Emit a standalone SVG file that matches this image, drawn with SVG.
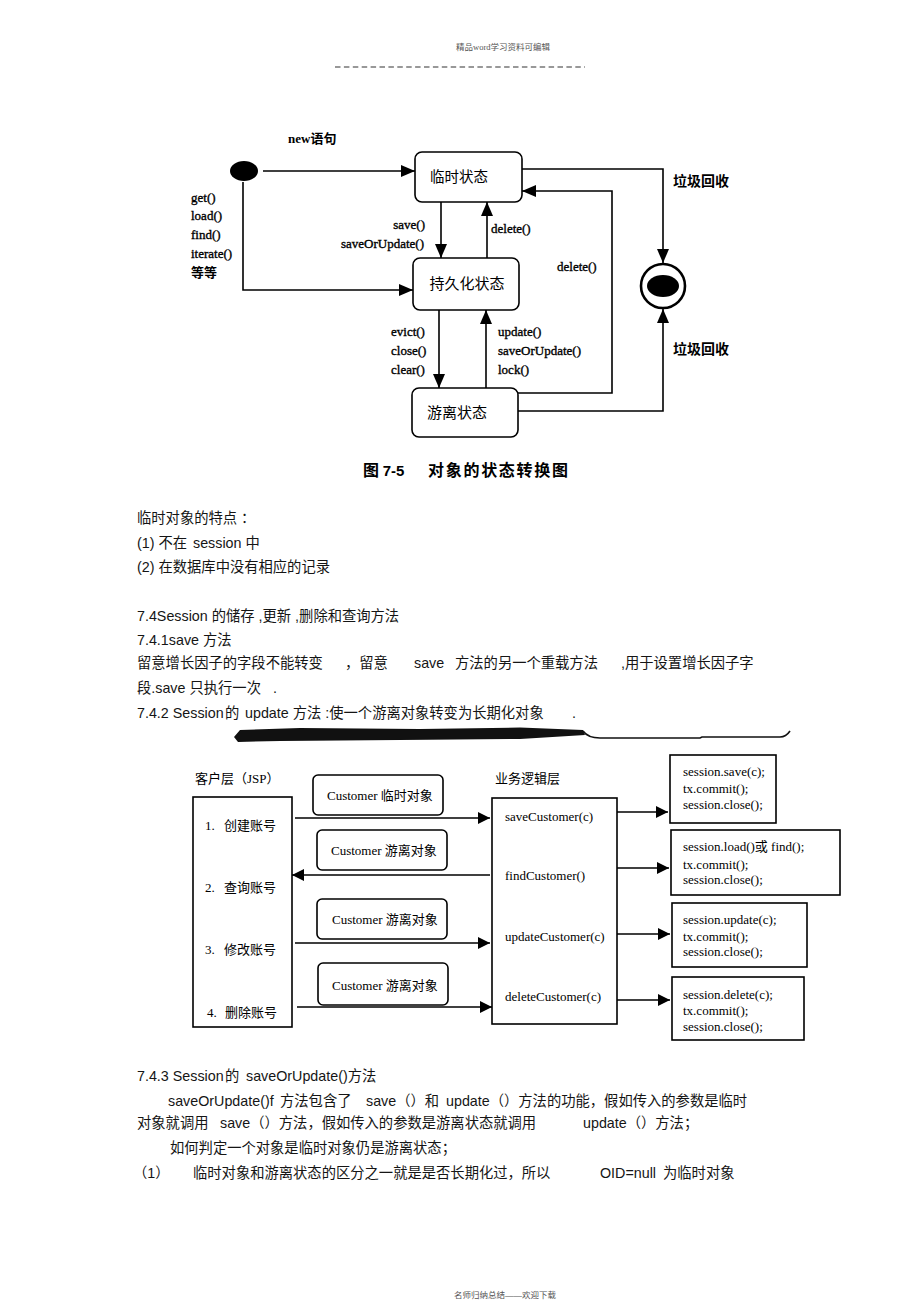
<svg xmlns="http://www.w3.org/2000/svg" width="920" height="1303" viewBox="0 0 920 1303">
<style>
.hdr{font-family:"Liberation Serif","Noto Sans CJK SC",serif;font-size:8.5px;fill:#555}
.body{font-family:"Liberation Sans","Noto Sans CJK SC",sans-serif;font-size:14.3px;fill:#151515}
.lbl{font-family:"Liberation Serif","Noto Sans CJK SC",serif;font-size:13px;fill:#000}
.sl{stroke:#000;stroke-width:0.35}
.cjk{font-family:"Noto Sans CJK SC",sans-serif;fill:#000}
.node{fill:#fff;stroke:#000;stroke-width:1.6}
.edge{fill:none;stroke:#000;stroke-width:1.6}
</style>
<defs>
<marker id="ah" viewBox="0 0 14 12" refX="14" refY="6" markerWidth="14" markerHeight="12" markerUnits="userSpaceOnUse" orient="auto"><path d="M0,0 L14,6 L0,12 z" fill="#000"/></marker>
<marker id="ah2" viewBox="0 0 12 12" refX="12" refY="6" markerWidth="12" markerHeight="12" markerUnits="userSpaceOnUse" orient="auto"><path d="M0,0 L12,6 L0,12 z" fill="#000"/></marker>
</defs>
<rect width="920" height="1303" fill="#fff"/>

<!-- header / footer -->
<text class="hdr" x="503" y="50" text-anchor="middle">精品word学习资料可编辑</text>
<path d="M335,67 H585" stroke="#333" stroke-width="1.2" stroke-dasharray="5.5 3.4" fill="none"/>
<text class="hdr" x="505" y="1298" text-anchor="middle">名师归纳总结——欢迎下载</text>

<!-- ===== State diagram ===== -->
<g id="edges-state">
<path class="edge" d="M263,171 H415" marker-end="url(#ah)"/>
<path class="edge" d="M243,182 V290 H413" marker-end="url(#ah)"/>
<path class="edge" d="M441,202 V258" marker-end="url(#ah)"/>
<path class="edge" d="M487,258 V202" marker-end="url(#ah)"/>
<path class="edge" d="M439,310 V388" marker-end="url(#ah)"/>
<path class="edge" d="M486,388 V310" marker-end="url(#ah)"/>
<path class="edge" d="M518,393 H612 V191 H522" marker-end="url(#ah)"/>
<path class="edge" d="M522,169 H663 V263" marker-end="url(#ah)"/>
<path class="edge" d="M518,411 H663 V309" marker-end="url(#ah)"/>
<text class="lbl" x="288" y="143" font-weight="bold">new语句</text>
<text class="lbl sl" x="191" y="201.5">get()</text>
<text class="lbl sl" x="191" y="219.5">load()</text>
<text class="lbl sl" x="191" y="238.5">find()</text>
<text class="lbl sl" x="191" y="257.5">iterate()</text>
<text class="cjk" x="191" y="277" font-size="13" font-weight="bold">等等</text>
<text class="lbl sl" x="425" y="229" text-anchor="end">save()</text>
<text class="lbl sl" x="424" y="248" text-anchor="end">saveOrUpdate()</text>
<text class="lbl sl" x="491" y="233">delete()</text>
<text class="lbl sl" x="557" y="271">delete()</text>
<text class="lbl sl" x="391" y="336">evict()</text>
<text class="lbl sl" x="391" y="355">close()</text>
<text class="lbl sl" x="391" y="374">clear()</text>
<text class="lbl sl" x="498" y="336">update()</text>
<text class="lbl sl" x="498" y="355">saveOrUpdate()</text>
<text class="lbl sl" x="498" y="374">lock()</text>
<text class="cjk" x="673" y="186" font-size="14" font-weight="bold">垃圾回收</text>
<text class="cjk" x="673" y="354" font-size="14" font-weight="bold">垃圾回收</text>
</g>
<g id="start">
<ellipse cx="244" cy="171" rx="14" ry="10" fill="#000"/>
</g>
<g id="transient">
<rect class="node" x="415" y="152" width="107" height="50" rx="7"/>
<text class="cjk" x="459" y="182" font-size="14.5" text-anchor="middle">临时状态</text>
</g>
<g id="persistent">
<rect class="node" x="413" y="258" width="106" height="52" rx="7"/>
<text class="cjk" x="467" y="288.5" font-size="15" text-anchor="middle">持久化状态</text>
</g>
<g id="detached">
<rect class="node" x="412" y="388" width="106" height="49" rx="7"/>
<text class="cjk" x="457" y="418" font-size="15" text-anchor="middle">游离状态</text>
</g>
<g id="final">
<circle cx="663" cy="286" r="22" fill="#fff" stroke="#000" stroke-width="2.6"/>
<ellipse cx="663" cy="286" rx="16" ry="11" fill="#000"/>
</g>
<g id="caption">
<text class="cjk" x="363" y="476" font-size="16" font-weight="bold">图 <tspan font-family="Liberation Sans" font-size="15">7-5</tspan></text>
<text class="cjk" x="428" y="476" font-size="16" font-weight="bold" textLength="140">对象的状态转换图</text>
</g>

<!-- ===== Body text 1 ===== -->
<g id="text1" class="body">
<text x="137" y="523">临时对象的特点 ：</text>
<text x="137" y="548">(1) 不在<tspan x="193">session 中</tspan></text>
<text x="137" y="572">(2) 在数据库中没有相应的记录</text>
<text x="137" y="621">7.4Session 的储存 ,更新 ,删除和查询方法</text>
<text x="137" y="645">7.4.1save 方法</text>
<text x="137" y="668">留意增长因子的字段不能转变<tspan x="345">，留意</tspan><tspan x="414">save</tspan><tspan x="455">方法的另一个重载方法</tspan><tspan x="621">,用于设置增长因子字</tspan></text>
<text x="137" y="693">段.save 只执行一次<tspan x="273">.</tspan></text>
<text x="137" y="718">7.4.2 Session<tspan x="225">的</tspan><tspan x="245">update 方法 :使一个游离对象转变为长期化对象</tspan><tspan x="572">.</tspan></text>
</g>
<g id="scribble">
<path d="M234,737 L240,730 L300,728 L420,729 L520,727.5 L583,730 L585,735 L520,739 L400,740 L280,741 L238,742 z" fill="#111"/>
<path d="M583,731 Q588,738 600,738 H700 L702,737 H780 Q786,737 790,731" fill="none" stroke="#111" stroke-width="1.6"/>
</g>

<!-- ===== Second diagram ===== -->
<g id="edges-flow">
<path class="edge" d="M295,818 H490" marker-end="url(#ah2)"/>
<path class="edge" d="M490,875 H292" marker-end="url(#ah2)"/>
<path class="edge" d="M295,943 H490" marker-end="url(#ah2)"/>
<path class="edge" d="M297,1007 H492" marker-end="url(#ah2)"/>
<path class="edge" d="M617,812 H668" marker-end="url(#ah2)"/>
<path class="edge" d="M617,868 H669" marker-end="url(#ah2)"/>
<path class="edge" d="M617,934 H670" marker-end="url(#ah2)"/>
<path class="edge" d="M617,1000 H670" marker-end="url(#ah2)"/>
</g>
<g id="client">
<text class="lbl" x="195" y="783" font-size="12.5">客户层（JSP）</text>
<rect class="node" x="193" y="797" width="99" height="230" stroke-width="2"/>
<text class="lbl" x="205" y="830">1.<tspan x="224">创建账号</tspan></text>
<text class="lbl" x="205" y="892">2.<tspan x="224">查询账号</tspan></text>
<text class="lbl" x="205" y="954">3.<tspan x="224">修改账号</tspan></text>
<text class="lbl" x="207" y="1017">4.<tspan x="225">删除账号</tspan></text>
</g>
<g id="msg1">
<rect class="node" x="313" y="775" width="130" height="40" rx="5" stroke-width="2"/>
<text class="lbl" x="327" y="799.5">Customer 临时对象</text>
</g>
<g id="msg2">
<rect class="node" x="317" y="830" width="130" height="40" rx="5" stroke-width="2"/>
<text class="lbl" x="331" y="854.5">Customer 游离对象</text>
</g>
<g id="msg3">
<rect class="node" x="317" y="899" width="130" height="40" rx="5" stroke-width="2"/>
<text class="lbl" x="332" y="923.5">Customer 游离对象</text>
</g>
<g id="msg4">
<rect class="node" x="318" y="963" width="130" height="42" rx="5" stroke-width="2"/>
<text class="lbl" x="332" y="989.5">Customer 游离对象</text>
</g>
<g id="logic">
<text class="lbl" x="495" y="783" font-size="12.5">业务逻辑层</text>
<rect class="node" x="492" y="798" width="125" height="226" stroke-width="2"/>
<text class="lbl" x="505" y="821">saveCustomer(c)</text>
<text class="lbl" x="505" y="880">findCustomer()</text>
<text class="lbl" x="505" y="941">updateCustomer(c)</text>
<text class="lbl" x="505" y="1001">deleteCustomer(c)</text>
</g>
<g id="db1">
<rect class="node" x="670" y="755" width="106" height="68" stroke-width="2"/>
<text class="lbl" x="683" y="776">session.save(c);</text>
<text class="lbl" x="683" y="793">tx.commit();</text>
<text class="lbl" x="683" y="809">session.close();</text>
</g>
<g id="db2">
<rect class="node" x="671" y="830" width="169" height="65" stroke-width="2"/>
<text class="lbl" x="683" y="851">session.load()或 find();</text>
<text class="lbl" x="683" y="869">tx.commit();</text>
<text class="lbl" x="683" y="884">session.close();</text>
</g>
<g id="db3">
<rect class="node" x="672" y="903" width="135" height="64" stroke-width="2"/>
<text class="lbl" x="683" y="924">session.update(c);</text>
<text class="lbl" x="683" y="941">tx.commit();</text>
<text class="lbl" x="683" y="956">session.close();</text>
</g>
<g id="db4">
<rect class="node" x="672" y="977" width="132" height="63" stroke-width="2"/>
<text class="lbl" x="683" y="999">session.delete(c);</text>
<text class="lbl" x="683" y="1015">tx.commit();</text>
<text class="lbl" x="683" y="1031">session.close();</text>
</g>

<!-- ===== Body text 2 ===== -->
<g id="text2" class="body">
<text x="137" y="1081">7.4.3 Session<tspan x="225">的</tspan><tspan x="246">saveOrUpdate()方法</tspan></text>
<text x="168" y="1106">saveOrUpdate()f<tspan x="280">方法包含了</tspan><tspan x="366">save（）和</tspan><tspan x="446">update（）方法的功能，假如传入的参数是临时</tspan></text>
<text x="137" y="1128">对象就调用<tspan x="220">save（）方法，假如传入的参数是游离状态就调用</tspan><tspan x="583">update（）方法；</tspan></text>
<text x="170" y="1153">如何判定一个对象是临时对象仍是游离状态；</text>
<text x="133" y="1178">（1）<tspan x="193">临时对象和游离状态的区分之一就是是否长期化过，所以</tspan><tspan x="600">OID=null</tspan><tspan x="663">为临时对象</tspan></text>
</g>
</svg>
